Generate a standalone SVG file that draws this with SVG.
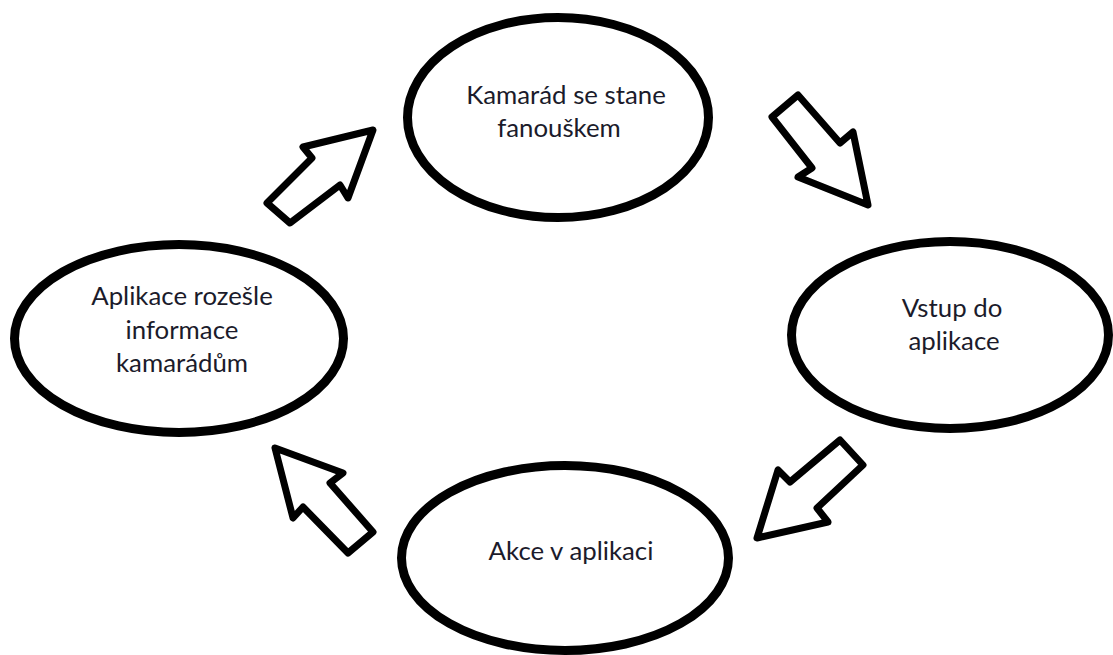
<svg xmlns="http://www.w3.org/2000/svg" width="1113" height="655" viewBox="0 0 1113 655">
<style>
.node ellipse{fill:#fff;stroke:#000;stroke-width:9}
.node text{font-family:"Lato","Open Sans","Liberation Sans",sans-serif;font-size:25.8px;fill:#1b1b2b;text-anchor:middle}
.arrow{fill:#fff;stroke:#000;stroke-width:7;stroke-linejoin:round}
</style>
<rect width="1113" height="655" fill="#fff"/>
<g id="connectors">
<polygon class="arrow" points="772,117 798,95 840,143 853,132 868,205 798,177 812,168"/>
<polygon class="arrow" points="267,203 312,158 303,147 373,130 348,198 340,185 290,223"/>
<polygon class="arrow" points="840,440 790,482 778,470 757,538 828,522 817,508 863,465"/>
<polygon class="arrow" points="275,448 343,473 330,483 373,532 348,553 303,507 293,518"/>
</g>
<g id="node-top" class="node">
<ellipse cx="558" cy="117.5" rx="150.5" ry="100"/>
<text x="566" y="104">Kamarád se stane</text>
<text x="559" y="137">fanouškem</text>
</g>
<g id="node-right" class="node">
<ellipse cx="950" cy="335" rx="158.5" ry="93.5"/>
<text x="952" y="317">Vstup do</text>
<text x="954" y="350">aplikace</text>
</g>
<g id="node-bottom" class="node">
<ellipse cx="565" cy="558" rx="163.5" ry="92.5"/>
<text x="571" y="560">Akce v aplikaci</text>
</g>
<g id="node-left" class="node">
<ellipse cx="179" cy="338.5" rx="164.5" ry="94"/>
<text x="182" y="305">Aplikace rozešle</text>
<text x="182" y="339">informace</text>
<text x="182" y="372">kamarádům</text>
</g>
</svg>
